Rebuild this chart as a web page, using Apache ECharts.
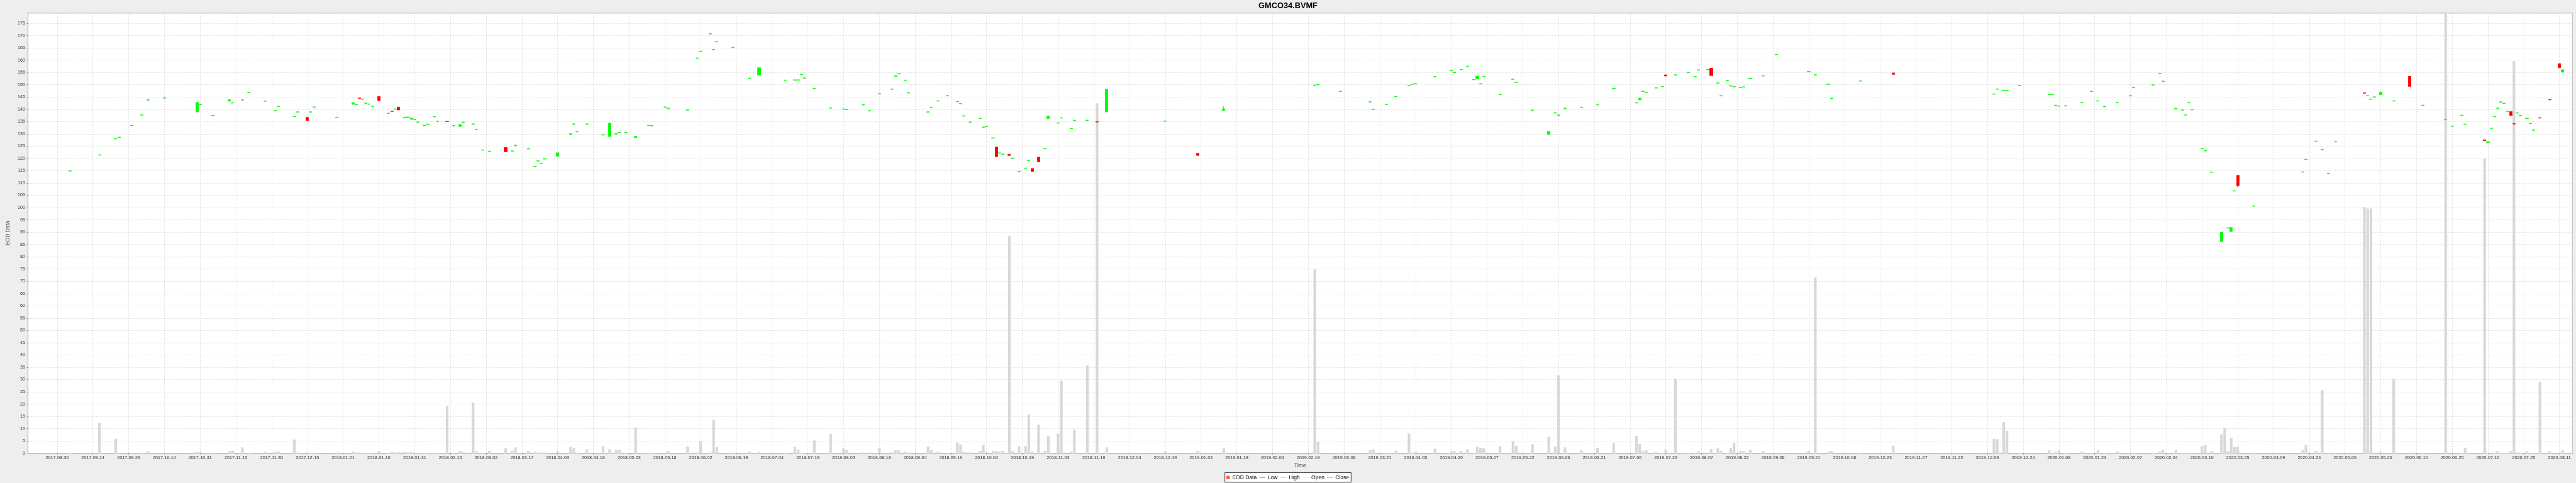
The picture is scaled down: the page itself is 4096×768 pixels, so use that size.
<!DOCTYPE html>
<html>
<head>
<meta charset="utf-8">
<script src="https://cdn.jsdelivr.net/npm/echarts@6/dist/echarts.min.js"></script>
<style>
html,body{margin:0;padding:0;background:#EEEEEE;}
#chart{width:4096px;height:768px;}
</style>
</head>
<body>
<div id="chart"></div>
<script>
// ---------- data ----------
const tickLabels = [
  '2017-08-30','2017-09-14','2017-09-29','2017-10-14','2017-10-31','2017-11-15','2017-11-30','2017-12-15',
  '2018-01-01','2018-01-16','2018-01-31','2018-02-15','2018-03-02','2018-03-17','2018-04-03','2018-04-18',
  '2018-05-03','2018-05-18','2018-06-02','2018-06-19','2018-07-04','2018-07-19','2018-08-03','2018-08-18',
  '2018-09-04','2018-09-19','2018-10-04','2018-10-19','2018-11-03','2018-11-19','2018-12-04','2018-12-19',
  '2019-01-03','2019-01-18','2019-02-04','2019-02-19','2019-03-06','2019-03-21','2019-04-05','2019-04-20',
  '2019-05-07','2019-05-22','2019-06-06','2019-06-21','2019-07-06','2019-07-23','2019-08-07','2019-08-22',
  '2019-09-06','2019-09-21','2019-10-08','2019-10-23','2019-11-07','2019-11-22','2019-12-09','2019-12-24',
  '2020-01-08','2020-01-23','2020-02-07','2020-02-24','2020-03-10','2020-03-25','2020-04-09','2020-04-24',
  '2020-05-09','2020-05-26','2020-06-10','2020-06-25','2020-07-10','2020-07-25','2020-08-11'
];

const dates = [
  // 2017
  '2017-09-05','2017-09-18','2017-09-25','2017-09-26','2017-10-02','2017-10-05','2017-10-09','2017-10-16','2017-10-30','2017-10-31',
  '2017-11-06','2017-11-13','2017-11-14','2017-11-17','2017-11-21','2017-11-28','2017-12-01','2017-12-04','2017-12-11','2017-12-12',
  '2017-12-15','2017-12-18','2017-12-19','2017-12-28',
  // 2018-01
  '2018-01-04','2018-01-05','2018-01-08','2018-01-09','2018-01-10','2018-01-11','2018-01-12','2018-01-16','2018-01-19','2018-01-22',
  '2018-01-23','2018-01-24','2018-01-26','2018-01-29','2018-01-30','2018-01-31',
  // 2018-02
  '2018-02-01','2018-02-05','2018-02-06','2018-02-08','2018-02-09','2018-02-14','2018-02-16','2018-02-20','2018-02-21','2018-02-26','2018-02-27',
  // 2018-03
  '2018-03-01','2018-03-05','2018-03-12','2018-03-14','2018-03-15','2018-03-21','2018-03-23','2018-03-26','2018-03-27','2018-03-28',
  // 2018-04
  '2018-04-03','2018-04-09','2018-04-10','2018-04-11','2018-04-16','2018-04-23','2018-04-25','2018-04-27','2018-04-30',
  // 2018-05
  '2018-05-02','2018-05-07','2018-05-11','2018-05-14','2018-05-18','2018-05-21','2018-05-29',
  // 2018-06
  '2018-06-01','2018-06-04','2018-06-07','2018-06-08','2018-06-11','2018-06-18','2018-06-25','2018-06-28',
  // 2018-07
  '2018-07-10','2018-07-13','2018-07-16','2018-07-17','2018-07-18','2018-07-23','2018-07-30',
  // 2018-08
  '2018-08-03','2018-08-06','2018-08-13','2018-08-15','2018-08-20','2018-08-24','2018-08-27','2018-08-28','2018-08-30','2018-08-31',
  // 2018-09
  '2018-09-10','2018-09-11','2018-09-13','2018-09-18','2018-09-21','2018-09-24','2018-09-25','2018-09-27',
  // 2018-10
  '2018-10-02','2018-10-03','2018-10-04','2018-10-08','2018-10-09','2018-10-10','2018-10-11','2018-10-15','2018-10-16','2018-10-18',
  '2018-10-22','2018-10-23','2018-10-24','2018-10-26','2018-10-30','2018-10-31',
  // 2018-11 / 12
  '2018-11-05','2018-11-06','2018-11-09','2018-11-12','2018-11-16','2018-11-21','2018-11-26','2018-12-20',
  // 2019-01 .. 03
  '2019-01-03','2019-01-15','2019-02-22','2019-02-25','2019-03-06','2019-03-19','2019-03-20','2019-03-26','2019-03-29',
  // 2019-04
  '2019-04-04','2019-04-05','2019-04-08','2019-04-16','2019-04-23','2019-04-24','2019-04-26','2019-04-30',
  // 2019-05
  '2019-05-02','2019-05-03','2019-05-06','2019-05-07','2019-05-14','2019-05-20','2019-05-21','2019-05-28',
  // 2019-06
  '2019-06-04','2019-06-06','2019-06-07','2019-06-11','2019-06-18','2019-06-25',
  // 2019-07
  '2019-07-02','2019-07-11','2019-07-12','2019-07-15','2019-07-16','2019-07-19','2019-07-23','2019-07-24','2019-07-29',
  // 2019-08
  '2019-08-02','2019-08-06','2019-08-07','2019-08-12','2019-08-13','2019-08-15','2019-08-16','2019-08-20','2019-08-21','2019-08-22',
  '2019-08-26','2019-08-27','2019-08-29',
  // 2019-09 / 10
  '2019-09-04','2019-09-10','2019-09-24','2019-09-26','2019-10-02','2019-10-03','2019-10-16','2019-10-30',
  // 2019-12
  '2019-12-12','2019-12-13','2019-12-17','2019-12-18','2019-12-24',
  // 2020-01
  '2020-01-06','2020-01-07','2020-01-08','2020-01-09','2020-01-13','2020-01-20','2020-01-23','2020-01-27','2020-01-29',
  // 2020-02
  '2020-02-04','2020-02-10','2020-02-11','2020-02-19','2020-02-21','2020-02-24','2020-02-28',
  // 2020-03
  '2020-03-03','2020-03-04','2020-03-05','2020-03-06','2020-03-11','2020-03-12','2020-03-16','2020-03-19','2020-03-20','2020-03-23',
  '2020-03-24','2020-03-25','2020-03-26',
  // 2020-04 / 05
  '2020-04-02','2020-04-23','2020-04-24','2020-04-29','2020-05-01','2020-05-05','2020-05-07','2020-05-20','2020-05-21','2020-05-22',
  '2020-05-25','2020-05-27',
  // 2020-06
  '2020-06-02','2020-06-09','2020-06-15','2020-06-24','2020-06-26',
  // 2020-07
  '2020-07-01','2020-07-02','2020-07-10','2020-07-13','2020-07-14','2020-07-15','2020-07-16','2020-07-17','2020-07-20','2020-07-21',
  '2020-07-22','2020-07-23','2020-07-24','2020-07-27','2020-07-29','2020-07-30','2020-07-31',
  // 2020-08
  '2020-08-04','2020-08-07','2020-08-12','2020-08-13'
];

const opens = [
  114.8,121.3,127.9,128.5,133.3,137.6,143.7,144.5,138.9,141.8,
  137.3,143.3,142.5,143.7,146.7,143.2,139.3,141.1,136.9,138.8,
  136.7,138.8,140.8,136.6,
  142.0,141.8,144.6,144.0,142.4,142.0,141.1,145.2,138.3,139.3,
  140.0,140.9,136.5,136.7,135.9,135.7,
  134.7,133.3,133.8,136.9,135.0,135.2,133.2,133.0,134.6,133.9,131.7,
  123.3,122.8,124.5,122.9,125.1,123.8,116.6,118.9,117.9,119.7,
  120.9,129.7,133.9,130.8,133.9,129.5,128.9,129.9,130.4,
  130.4,128.4,133.3,133.2,140.8,140.3,139.6,
  160.7,163.5,170.6,164.2,167.4,165.0,152.5,153.9,
  151.7,151.8,151.8,154.1,152.6,148.3,140.4,
  140.0,139.8,141.7,139.3,146.2,148.1,153.4,154.4,151.7,146.6,
  138.8,140.7,143.3,145.4,143.0,142.2,137.2,134.7,
  136.2,132.6,132.9,128.2,124.6,122.1,121.6,121.7,120.0,114.5,
  115.9,119.1,115.9,120.5,123.9,136.2,
  134.3,136.4,132.1,135.4,135.4,135.0,138.9,135.1,
  122.1,139.5,149.7,149.9,147.2,142.9,139.8,141.9,145.1,
  149.5,150.1,150.3,153.2,155.7,154.9,156.1,157.4,
  152.0,152.4,150.3,153.3,145.9,152.1,150.9,139.5,
  129.7,138.4,137.5,140.3,140.7,141.7,
  148.3,142.5,143.8,147.2,146.8,148.6,149.1,154.0,153.9,
  154.8,153.2,155.9,156.0,156.7,150.6,145.4,151.6,149.4,149.1,
  148.8,149.0,152.4,
  153.5,162.2,155.2,153.9,150.1,144.3,151.4,154.8,
  146.1,148.1,147.6,147.6,149.6,
  146.0,146.0,141.5,141.2,141.3,142.6,147.2,143.3,141.0,
  142.6,145.4,148.8,149.8,154.4,151.3,140.2,
  139.6,137.6,142.6,139.7,123.9,123.0,114.3,86.1,null,91.6,
  90.2,106.7,113.1,
  100.5,114.4,119.5,126.9,123.5,113.7,126.7,146.7,145.4,144.0,
  144.9,145.9,
  143.3,153.4,141.5,135.7,133.0,
  137.4,133.8,127.6,126.4,132.2,136.9,140.3,142.9,142.3,139.1,
  139.1,134.2,138.4,137.3,136.2,134.1,131.4,
  136.6,144.0,158.6,155.1
];

const closes = [
  115.0,121.5,128.1,128.7,133.5,137.8,143.9,144.7,142.8,142.0,
  137.5,143.9,142.7,143.9,146.9,143.4,139.5,141.3,137.1,139.0,
  135.4,139.0,141.0,136.8,
  142.7,142.0,144.4,144.2,142.6,142.2,141.3,143.5,138.5,139.1,
  140.2,139.7,136.8,136.9,136.5,135.9,
  134.9,133.5,134.0,137.1,135.2,135.0,133.4,133.8,134.8,134.1,131.9,
  123.5,123.0,122.7,123.1,125.3,124.0,116.8,119.1,118.1,119.9,
  122.3,130.1,134.1,131.0,134.1,129.7,134.4,130.1,130.6,
  130.6,129.0,133.5,133.4,141.0,140.5,139.8,
  160.9,163.7,170.8,164.4,167.6,165.2,152.7,156.9,
  151.9,152.0,152.0,154.3,152.8,148.5,140.6,
  140.2,140.0,141.9,139.5,146.4,148.3,153.6,154.6,151.9,146.8,
  139.0,140.9,143.5,145.6,143.2,142.4,137.4,134.9,
  136.4,132.8,133.1,128.4,120.7,122.3,121.8,121.2,120.2,114.7,
  116.1,119.3,114.7,118.6,124.1,137.3,
  134.5,136.6,132.3,135.6,135.6,134.8,148.2,135.3,
  121.2,140.2,149.9,150.1,147.4,143.1,140.0,142.1,145.3,
  149.7,150.3,150.5,153.4,155.9,155.1,156.3,157.6,
  152.2,153.5,150.5,153.5,146.1,152.3,151.1,139.7,
  131.0,138.6,137.7,140.5,140.9,141.9,
  148.5,142.7,144.5,147.4,147.0,148.8,149.3,153.5,154.1,
  155.0,153.4,156.1,156.2,153.7,150.8,145.6,151.8,149.6,149.3,
  149.0,149.2,152.6,
  153.7,162.4,155.4,154.1,150.3,144.5,151.6,154.2,
  146.3,148.3,147.8,147.8,149.8,
  146.2,146.2,141.7,141.4,141.5,142.8,147.4,143.5,141.2,
  142.8,145.6,149.0,150.0,154.6,151.5,140.4,
  139.8,137.8,142.8,139.9,124.1,123.2,114.5,90.0,null,91.8,
  91.9,106.9,108.9,
  100.7,114.6,119.7,127.1,123.7,113.9,126.9,146.5,145.6,144.2,
  145.1,147.0,
  143.5,149.3,141.7,135.9,133.2,
  137.6,134.0,127.2,126.8,132.4,137.1,140.5,143.1,142.5,139.3,
  137.5,134.0,138.6,137.5,136.4,134.3,131.6,
  136.4,143.8,156.9,156.1
];

const highs = [
  115.0,121.5,128.1,128.7,133.5,137.8,143.9,144.7,142.8,142.0,
  137.5,143.9,142.7,143.9,146.9,143.4,139.5,141.3,137.1,139.0,
  136.7,139.0,141.0,136.8,
  142.7,142.0,144.6,144.2,142.6,142.2,141.3,145.2,138.5,139.3,
  140.2,140.9,136.8,136.9,136.5,135.9,
  134.9,133.5,134.0,137.1,135.2,135.2,133.4,133.8,134.8,134.4,131.9,
  123.5,123.0,124.5,123.1,125.7,124.0,116.8,119.1,118.1,119.9,
  122.3,130.1,134.1,131.0,134.1,129.7,134.4,130.1,130.6,
  130.6,129.0,133.5,133.4,141.0,140.5,139.8,
  160.9,163.7,170.8,164.4,167.6,165.2,152.7,156.9,
  151.9,152.0,152.0,154.3,152.8,148.5,140.6,
  140.2,140.0,141.9,139.5,146.4,148.3,153.6,154.6,151.9,146.8,
  139.0,140.9,143.5,145.6,143.2,142.4,137.4,134.9,
  136.4,132.8,133.1,128.4,124.6,122.3,121.8,121.7,120.2,114.7,
  116.1,119.3,115.9,120.5,124.1,137.3,
  134.5,136.6,132.3,135.6,135.6,135.0,148.2,135.3,
  122.1,141.3,149.9,150.1,147.4,143.1,140.0,142.1,145.3,
  149.7,150.3,150.5,153.4,155.9,155.1,156.3,157.6,
  152.2,153.5,150.5,153.5,146.1,152.3,151.1,139.7,
  131.0,138.6,137.7,140.5,140.9,141.9,
  148.5,142.7,144.5,147.4,147.0,148.8,149.3,154.0,154.1,
  155.0,153.4,156.1,156.2,156.7,150.8,145.6,151.8,149.6,149.3,
  149.0,149.2,152.6,
  153.7,162.4,155.4,154.1,150.3,144.5,151.6,154.8,
  146.3,148.3,147.8,147.8,149.8,
  146.2,146.2,141.7,141.4,141.5,142.8,147.4,143.5,141.2,
  142.8,145.6,149.0,150.0,154.6,151.5,140.4,
  139.8,137.8,142.8,139.9,124.1,123.2,114.5,90.0,null,91.8,
  91.9,106.9,113.1,
  100.7,114.6,119.7,127.1,123.7,113.9,126.9,146.7,145.6,144.2,
  145.1,147.0,
  143.5,153.4,141.7,135.9,133.2,
  137.6,134.0,127.6,126.8,132.4,137.1,140.5,143.1,142.5,139.3,
  139.1,134.2,138.6,137.5,136.4,134.3,131.6,
  136.6,144.0,158.6,156.1
];

const lows = [
  114.8,121.3,127.9,128.5,133.3,137.6,143.7,144.5,138.9,141.8,
  137.3,143.3,142.5,143.7,146.7,143.2,139.3,141.1,136.9,138.8,
  135.4,138.8,140.8,136.6,
  142.0,141.8,144.4,144.0,142.4,142.0,141.1,143.5,138.3,139.1,
  140.0,139.7,136.5,136.7,135.9,135.7,
  134.7,133.3,133.8,136.9,135.0,135.0,133.2,133.0,134.6,133.9,131.7,
  123.3,122.8,122.7,122.9,125.1,123.8,116.6,118.9,117.9,119.7,
  120.9,129.7,133.9,130.8,133.9,129.5,128.9,129.9,130.4,
  130.4,128.4,133.3,133.2,140.8,140.3,139.6,
  160.7,163.5,170.6,164.2,167.4,165.0,152.5,153.9,
  151.7,151.8,151.8,154.1,152.6,148.3,140.4,
  140.0,139.8,141.7,139.3,146.2,148.1,153.4,154.4,151.7,146.6,
  138.8,140.7,143.3,145.4,143.0,142.2,137.2,134.7,
  136.2,132.6,132.9,128.2,120.7,122.1,121.6,121.2,120.0,114.5,
  115.9,119.1,114.7,118.6,123.9,136.2,
  134.3,136.4,132.1,135.4,135.4,134.8,138.9,135.1,
  121.2,139.5,149.7,149.9,147.2,142.9,139.8,141.9,145.1,
  149.5,150.1,150.3,153.2,155.7,154.9,156.1,157.4,
  152.0,152.4,150.3,153.3,145.9,152.1,150.9,139.5,
  129.7,138.4,137.5,140.3,140.7,141.7,
  148.3,142.5,143.8,147.2,146.8,148.6,149.1,153.5,153.9,
  154.8,153.2,155.9,156.0,153.7,150.6,145.4,151.6,149.4,149.1,
  148.8,149.0,152.4,
  153.5,162.2,155.2,153.9,150.1,144.3,151.4,154.2,
  146.1,148.1,147.6,147.6,149.6,
  146.0,146.0,141.5,141.2,141.3,142.6,147.2,143.3,141.0,
  142.6,145.4,148.8,149.8,154.4,151.3,140.2,
  139.6,137.6,142.6,139.7,123.9,123.0,114.3,85.9,null,91.6,
  90.2,106.7,108.3,
  100.5,114.4,119.5,126.9,123.5,113.7,126.7,146.5,145.4,144.0,
  144.9,145.9,
  143.3,149.3,141.5,135.7,133.0,
  137.4,133.8,127.2,126.4,132.2,136.9,140.3,142.9,142.3,139.1,
  137.5,134.0,138.4,137.3,136.2,134.1,131.4,
  136.4,143.8,156.9,155.1
];

const volumes = [
  0.2,12.4,5.9,0.2,0.2,0.2,0.8,0.2,0.6,0.6,
  0.2,0.8,1.0,2.4,0.2,0.6,0.6,0.8,5.6,0.3,
  0.3,0.2,0.2,0.3,
  0.8,0.3,0.3,0.2,0.2,0.2,0.2,0.8,0.2,0.5,
  0.3,0.5,0.5,0.3,0.5,0.2,
  0.2,0.2,0.2,0.2,0.2,19.2,0.2,1.0,0.5,20.6,0.8,
  0.2,1.0,2.1,1.0,2.4,1.0,0.6,0.2,0.3,0.3,
  0.8,2.6,2.1,0.2,1.6,2.9,1.6,1.4,1.4,
  0.2,10.5,0.2,0.2,0.2,1.0,2.8,
  0.3,5.0,0.3,13.7,2.6,0.3,0.6,0.6,
  0.2,2.6,1.6,0.2,0.2,5.2,7.9,
  1.9,1.4,0.3,0.3,2.2,0.3,1.2,1.2,0.6,0.2,
  2.8,1.3,0.6,0.2,4.4,3.6,0.6,0.3,
  1.0,3.4,0.6,1.0,1.0,0.6,1.0,88.4,0.8,2.8,
  3.0,15.7,0.8,11.6,1.0,7.0,
  8.0,29.5,0.6,9.6,35.8,142.4,2.4,0.8,
  1.0,2.1,74.9,4.6,0.2,1.4,1.6,0.2,1.0,
  8.0,0.2,0.6,1.9,0.8,0.8,1.0,1.6,
  0.2,2.7,2.1,2.1,2.9,4.8,3.0,3.7,
  6.7,2.8,31.7,2.4,1.2,2.2,
  4.2,7.1,3.8,0.8,1.2,0.6,0.2,1.5,30.4,
  0.2,0.2,0.8,0.3,1.7,2.1,1.0,0.2,2.1,4.2,
  1.0,0.8,1.4,
  0.8,0.2,1.0,71.5,0.6,1.0,0.2,3.0,
  5.9,5.7,12.7,9.1,0.2,
  1.3,0.2,0.7,1.3,0.2,0.7,0.2,1.3,0.2,
  0.7,0.2,0.2,0.2,0.7,1.5,1.4,
  0.2,0.2,0.2,0.2,2.9,3.4,0.9,7.7,10.2,0.9,
  6.3,2.6,2.7,
  0.2,1.2,3.5,0.9,25.7,0.2,0.2,100.2,99.6,99.6,
  0.2,0.5,
  30.3,0.3,0.2,230,0.3,
  0.2,2.2,119.8,0.2,0.3,0.3,0.8,0.2,0.2,0.2,
  0.9,159.6,0.3,0.2,0.8,0.2,0.2,
  29.1,0.8,0.2,1.2
];

// ---------- weekday (Mon-Fri) category axis ----------
const firstDay = [2017, 7, 17];
const dayCount = 784;
const categories = [];
{
  const d = new Date(Date.UTC(firstDay[0], firstDay[1], firstDay[2]));
  while (categories.length < dayCount) {
    const wd = d.getUTCDay();
    if (wd !== 0 && wd !== 6) categories.push(d.toISOString().slice(0, 10));
    d.setUTCDate(d.getUTCDate() + 1);
  }
}
const firstTick = categories.indexOf('2017-08-30');
const tickStep = 11;
const isTick = (i) => i >= firstTick && (i - firstTick) % tickStep === 0 && (i - firstTick) / tickStep < tickLabels.length;

const candleData = [];
const volumeData = [];
dates.forEach((d, k) => {
  if (opens[k] != null) candleData.push([d, opens[k], closes[k], lows[k], highs[k]]);
  volumeData.push([d, volumes[k]]);
});

// ---------- chart ----------
const FONT = '"Liberation Sans", Arial, sans-serif';
const chart = echarts.init(document.getElementById('chart'), null, {renderer: 'canvas'});

const legendY = 759.2;
const legendItems = [
  {type: 'rect', shape: {x: 1947.7, y: 751.4, width: 200.6, height: 15.4}, style: {fill: '#FFFFFF', stroke: '#000000', lineWidth: 0.8}},
  {type: 'rect', shape: {x: 1950.0, y: 756.5, width: 5.3, height: 5.4}, style: {fill: '#FF5555'}},
  {type: 'text', x: 1959.4, y: legendY, style: {text: 'EOD Data', font: '8.5px ' + FONT, fill: '#000', verticalAlign: 'middle'}},
  {type: 'line', shape: {x1: 2002.6, y1: legendY, x2: 2011.7, y2: legendY}, style: {stroke: '#5555FF', lineWidth: 0.8}},
  {type: 'text', x: 2015.7, y: legendY, style: {text: 'Low', font: '8.5px ' + FONT, fill: '#000', verticalAlign: 'middle'}},
  {type: 'line', shape: {x1: 2035.8, y1: legendY, x2: 2045.4, y2: legendY}, style: {stroke: '#55FF55', lineWidth: 0.8}},
  {type: 'text', x: 2049.2, y: legendY, style: {text: 'High', font: '8.5px ' + FONT, fill: '#000', verticalAlign: 'middle'}},
  {type: 'line', shape: {x1: 2071.4, y1: legendY, x2: 2081.8, y2: legendY}, style: {stroke: '#FFFF55', lineWidth: 0.8}},
  {type: 'text', x: 2085.1, y: legendY, style: {text: 'Open', font: '8.5px ' + FONT, fill: '#000', verticalAlign: 'middle'}},
  {type: 'line', shape: {x1: 2109.8, y1: legendY, x2: 2119.6, y2: legendY}, style: {stroke: '#FF55FF', lineWidth: 0.8}},
  {type: 'text', x: 2123.3, y: legendY, style: {text: 'Close', font: '8.5px ' + FONT, fill: '#000', verticalAlign: 'middle'}}
];

const gridLine = {show: true, lineStyle: {color: '#D2D2D2', width: 0.7, type: [2, 2]}};

chart.setOption({
  animation: false,
  backgroundColor: '#EEEEEE',
  title: {
    text: 'GMCO34.BVMF', left: 'center', top: 3, padding: 0,
    textStyle: {fontSize: 12.8, fontWeight: 'bold', color: '#000000', fontFamily: FONT}
  },
  grid: {
    left: 40.0, right: 5.7, top: 20.8, bottom: 47.3,
    show: true, backgroundColor: '#FFFFFF', borderColor: '#BBBBBB', borderWidth: 1
  },
  xAxis: {
    type: 'category', data: categories, boundaryGap: false,
    name: 'Time', nameLocation: 'middle', nameGap: 14,
    nameTextStyle: {fontSize: 8.5, color: '#333333', fontFamily: FONT},
    axisLine: {lineStyle: {color: '#999999', width: 1}},
    axisTick: {show: true, interval: (i) => isTick(i), length: 2, lineStyle: {color: '#999999'}},
    axisLabel: {
      interval: (i) => isTick(i), margin: 3.5, fontSize: 7.2, color: '#333333', fontFamily: FONT,
      formatter: (v, i) => tickLabels[(i - firstTick) / tickStep]
    },
    splitLine: Object.assign({interval: (i) => isTick(i)}, gridLine)
  },
  yAxis: {
    type: 'value', min: 0, max: 179.15, interval: 5,
    name: 'EOD Data', nameLocation: 'middle', nameGap: 21,
    nameTextStyle: {fontSize: 8.5, color: '#333333', fontFamily: FONT},
    axisLine: {show: true, lineStyle: {color: '#999999', width: 1}},
    axisTick: {show: true, length: 2, lineStyle: {color: '#999999'}},
    axisLabel: {
      margin: 4.5, fontSize: 7.2, color: '#333333', fontFamily: FONT, showMaxLabel: false,
      formatter: (v) => (Math.abs(v % 5) < 1e-9 ? String(v) : '')
    },
    splitLine: gridLine
  },
  series: [
    {
      name: 'Volume', type: 'bar', data: volumeData, barWidth: 4.2,
      itemStyle: {color: '#D8D8D8'}, z: 2, silent: true
    },
    {
      name: 'EOD Data', type: 'candlestick', data: candleData,
      encode: {x: 0, y: [1, 2, 3, 4]}, barWidth: 4.6,
      itemStyle: {color: '#00FF00', color0: '#FF0000', borderColor: '#00FF00', borderColor0: '#FF0000', borderWidth: 0.8},
      z: 3, silent: true
    }
  ],
  graphic: {elements: legendItems}
});
</script>
</body>
</html>
